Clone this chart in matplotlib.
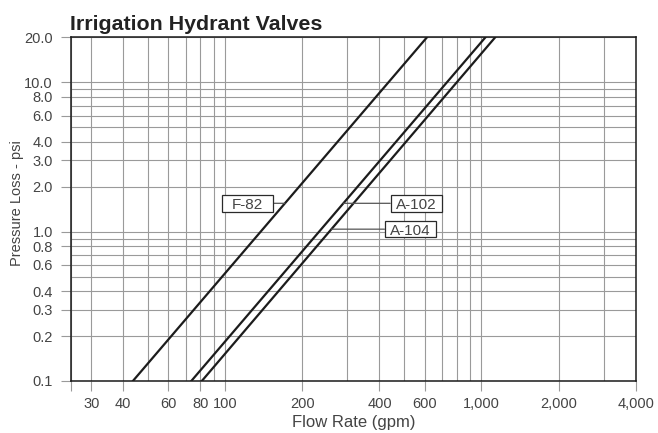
import numpy as np
import matplotlib.pyplot as plt
from matplotlib.patches import Rectangle, FancyArrowPatch
from matplotlib.transforms import ScaledTranslation

plt.rcParams['font.family'] = ['Liberation Sans', 'DejaVu Sans']

# -------- Data -------- #
valves = ["F-82", "A-102", "A-104"]
# flow (gpm) at the 0.1 psi and 20 psi ends of each loss curve
flow_low = [43.6, 73.7, 81.0]
flow_high = [612, 1035, 1130]
psi_low = 0.1
psi_high = 20.0

x_ticks = [25, 30, 40, 60, 80, 100, 200, 400, 600, 1000, 2000, 4000]
x_labels = ["", "30", "40", "60", "80", "100", "200", "400", "600", "1,000", "2,000", "4,000"]
x_minor = [50, 70, 90, 300, 500, 700, 800, 900, 3000]
y_ticks = [0.1, 0.2, 0.3, 0.4, 0.6, 0.8, 1.0, 2.0, 3.0, 4.0, 6.0, 8.0, 10.0, 20.0]
y_labels = [f"{v:.1f}" for v in y_ticks]
y_minor = [0.5, 0.7, 0.9, 5, 7, 9]

# -------- Label placement -------- #
label_psi = [1.55, 1.55, 1.04]
label_flow = [122, 556, 528]
box_w, box_h = 0.51, 0.165  # inches

grid_col = "#9a9a9a"
text_col = "#444444"

fig = plt.figure(figsize=(6.58, 4.33), dpi=100)
ax = fig.add_axes([0.1079, 0.1201, 0.8582, 0.7933])

ax.set_xscale("log")
ax.set_yscale("log")
ax.set_xlim(25, 4000)
ax.set_ylim(0.1, 20)

for name, q0, q1, lp, lq in zip(valves, flow_low, flow_high, label_psi, label_flow):
    ax.plot([q0, q1], [psi_low, psi_high], color="#1c1c1c", lw=1.6, zorder=3)

    # fixed-size label box centred on (lq, lp)
    anchor = fig.dpi_scale_trans + ScaledTranslation(lq, lp, ax.transData)
    box = Rectangle((-box_w / 2, -box_h / 2), box_w, box_h, transform=anchor,
                    fc="white", ec="#2a2a2a", lw=0.9, zorder=4)
    ax.add_patch(box)
    ax.annotate(name, xy=(lq, lp), xytext=(0, -3.9), textcoords="offset points",
                ha="center", va="baseline", fontsize=11, color=text_col, zorder=5)

    # leader from the curve (straight in log-log) to the box edge
    slope = np.log(q1 / q0) / np.log(psi_high / psi_low)
    q_at = q0 * (lp / psi_low) ** slope
    leader = FancyArrowPatch((q_at, lp), (lq, lp), arrowstyle="-", patchB=box,
                             shrinkA=0, shrinkB=0, color="#555555", lw=0.9, zorder=3.5)
    ax.add_patch(leader)

ax.set_xticks(x_ticks)
ax.set_xticklabels(x_labels)
ax.set_xticks(x_minor, minor=True)
ax.set_yticks(y_ticks)
ax.set_yticklabels(y_labels)
ax.set_yticks(y_minor, minor=True)

ax.tick_params(which="major", length=7.5, width=0.8, color=grid_col,
               labelsize=10.5, labelcolor=text_col)
ax.tick_params(axis="x", which="major", pad=4)
ax.tick_params(axis="y", which="major", pad=5.5)
ax.tick_params(which="minor", length=0)
ax.grid(True, which="both", color=grid_col, lw=0.8)
ax.set_axisbelow(True)

for sp in ax.spines.values():
    sp.set_color("#1a1a1a")
    sp.set_linewidth(1.1)

ax.set_xlabel("Flow Rate (gpm)", fontsize=12, color=text_col, labelpad=3)
ax.set_ylabel("Pressure Loss - psi", fontsize=10.5, color=text_col)
ax.yaxis.set_label_coords(-0.083, 0.517)

fig.text(70 / 658, 1 - 30 / 433, "Irrigation Hydrant Valves", fontsize=15.4,
         fontweight="bold", color="#222222", ha="left", va="baseline")

fig.savefig("out.png", dpi=100)
